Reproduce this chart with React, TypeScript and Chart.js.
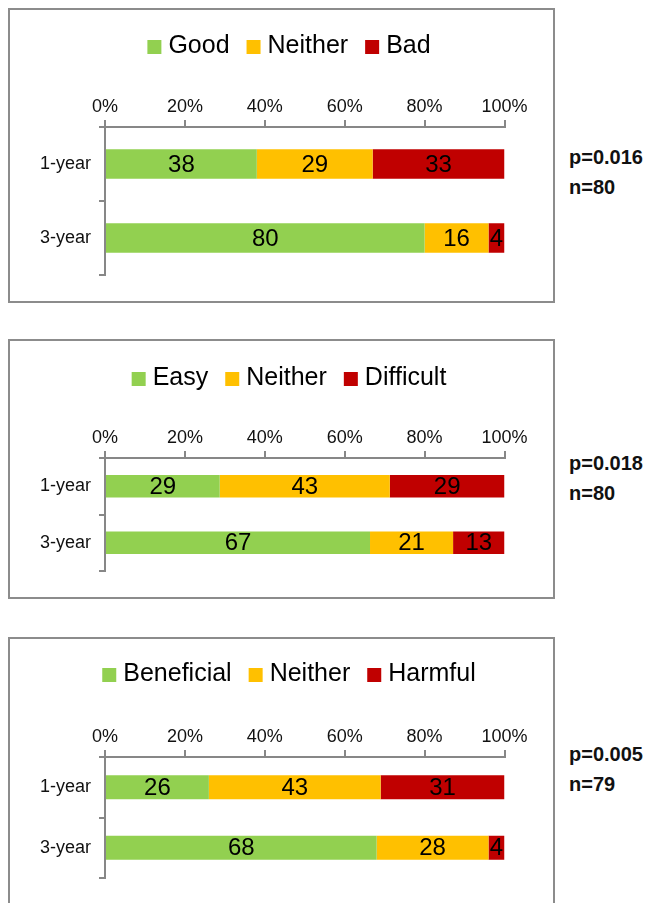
import React, { useEffect, useRef } from 'react';
import { Chart, registerables } from 'chart.js';

Chart.register(...registerables);

// ---------- data ----------
const categories = ['1-year', '3-year'];
const tickValues = [0, 20, 40, 60, 80, 100];

const p1Labels = ['Good', 'Neither', 'Bad'];
const p1Good = [38, 80];
const p1Neither = [29, 16];
const p1Bad = [33, 4];
const p1Stats = ['p=0.016', 'n=80'];

const p2Labels = ['Easy', 'Neither', 'Difficult'];
const p2Easy = [29, 67];
const p2Neither = [43, 21];
const p2Difficult = [29, 13];
const p2Stats = ['p=0.018', 'n=80'];

const p3Labels = ['Beneficial', 'Neither', 'Harmful'];
const p3Beneficial = [26, 68];
const p3Neither = [43, 28];
const p3Harmful = [31, 4];
const p3Stats = ['p=0.005', 'n=79'];

const seriesColors = ['#92D050', '#FFC000', '#C00000'];

// ---------- layout / style ----------
const FONT = '"Liberation Sans", Arial, Helvetica, sans-serif';
const AXIS_COLOR = '#878787';

type PanelLayout = {
  top: number; // wrapper top (page)
  height: number; // wrapper outer height
  legendY: number; // canvas coords
  axisY: number;
  bottomPad: number;
  statsY: number; // page coords of p line center
};

const layouts: PanelLayout[] = [
  { top: 8, height: 295, legendY: 36, axisY: 117, bottomPad: 26, statsY: 157 },
  { top: 339, height: 260, legendY: 37, axisY: 117, bottomPad: 26, statsY: 463 },
  { top: 637, height: 300, legendY: 35, axisY: 118, bottomPad: 57, statsY: 754 },
];

const WRAP_LEFT = 8;
const WRAP_WIDTH = 547;
const BORDER = 2;

function makeLegendPlugin(centerX: number, centerY: number) {
  return {
    id: 'customLegend',
    afterDraw(chart: any) {
      const ctx = chart.ctx;
      ctx.save();
      ctx.font = `25px ${FONT}`;
      ctx.textBaseline = 'middle';
      ctx.textAlign = 'left';
      const box = 14;
      const gapBoxText = 7;
      const gapItems = 17;
      const items = chart.data.datasets.map((ds: any) => ({
        label: ds.label,
        color: ds.backgroundColor,
        w: ctx.measureText(ds.label).width,
      }));
      const total =
        items.reduce((s: number, it: any) => s + box + gapBoxText + it.w, 0) +
        gapItems * (items.length - 1);
      let x = centerX - total / 2;
      items.forEach((it: any) => {
        ctx.fillStyle = it.color;
        ctx.fillRect(x, centerY - box / 2 + 1, box, box);
        ctx.fillStyle = '#000';
        ctx.fillText(it.label, x + box + gapBoxText, centerY);
        x += box + gapBoxText + it.w + gapItems;
      });
      ctx.restore();
    },
  };
}

const barLabelPlugin = {
  id: 'barLabels',
  afterDatasetsDraw(chart: any) {
    const ctx = chart.ctx;
    ctx.save();
    ctx.font = `24px ${FONT}`;
    ctx.fillStyle = '#000';
    ctx.textAlign = 'center';
    ctx.textBaseline = 'middle';
    chart.data.datasets.forEach((ds: any, di: number) => {
      const meta = chart.getDatasetMeta(di);
      meta.data.forEach((el: any, i: number) => {
        const { x, y, base } = el.getProps(['x', 'y', 'base'], true);
        ctx.fillText(String(ds.shown[i]), (x + base) / 2, y + 1);
      });
    });
    ctx.restore();
  },
};

function Panel({
  labels,
  series,
  stats,
  layout,
}: {
  labels: string[];
  series: number[][];
  stats: string[];
  layout: PanelLayout;
}) {
  const ref = useRef<HTMLCanvasElement | null>(null);
  const innerW = WRAP_WIDTH - 2 * BORDER;
  const innerH = layout.height - 2 * BORDER;

  useEffect(() => {
    if (!ref.current) return;
    const totals = categories.map((_, i) =>
      series.reduce((s, arr) => s + arr[i], 0)
    );
    const datasets = labels.map((lab, k) => ({
      label: lab,
      data: series[k].map((v, i) => (v / totals[i]) * 100),
      shown: series[k],
      backgroundColor: seriesColors[k],
      borderWidth: 0,
      barPercentage: 0.4,
      categoryPercentage: 1,
    }));
    const chart = new Chart(ref.current, {
      type: 'bar',
      data: { labels: categories, datasets },
      options: {
        indexAxis: 'y',
        animation: false,
        responsive: false,
        devicePixelRatio: 1,
        layout: {
          padding: { top: 0, left: 0, right: 48.5, bottom: layout.bottomPad },
        },
        plugins: {
          legend: { display: false },
          tooltip: { enabled: false },
        },
        scales: {
          x: {
            type: 'linear',
            position: 'top',
            stacked: true,
            min: 0,
            max: 100,
            afterBuildTicks(scale: any) {
              scale.ticks = tickValues.map((v) => ({ value: v }));
            },
            afterFit(scale: any) {
              scale.height = layout.axisY;
            },
            ticks: {
              callback: (v: any) => `${v}%`,
              color: '#111',
              font: { family: FONT, size: 18 },
              padding: 2,
              maxRotation: 0,
            },
            grid: {
              display: true,
              drawOnChartArea: false,
              drawTicks: true,
              tickLength: 7,
              color: AXIS_COLOR,
              lineWidth: 2,
            },
            border: { display: true, color: AXIS_COLOR, width: 2 },
          },
          y: {
            type: 'category',
            stacked: true,
            afterFit(scale: any) {
              scale.width = 95;
            },
            ticks: {
              color: '#111',
              font: { family: FONT, size: 18 },
              padding: 8,
            },
            grid: {
              display: true,
              drawOnChartArea: false,
              drawTicks: true,
              tickLength: 6,
              offset: true,
              color: AXIS_COLOR,
              lineWidth: 2,
            },
            border: { display: true, color: AXIS_COLOR, width: 2 },
          },
        },
      },
      plugins: [makeLegendPlugin(279, layout.legendY), barLabelPlugin],
    } as any);
    return () => chart.destroy();
  }, []);

  return (
    <>
      <div
        style={{
          position: 'absolute',
          left: WRAP_LEFT,
          top: layout.top,
          width: WRAP_WIDTH,
          height: layout.height,
          border: `${BORDER}px solid #8c8c8c`,
          boxSizing: 'border-box',
          background: '#fff',
        }}
      >
        <canvas
          ref={ref}
          width={innerW}
          height={innerH}
          style={{ display: 'block', width: innerW, height: innerH }}
        />
      </div>
      <div
        style={{
          position: 'absolute',
          left: 569,
          top: layout.statsY - 15,
          fontFamily: FONT,
          fontWeight: 'bold',
          fontSize: 20,
          lineHeight: '30px',
          color: '#111',
          whiteSpace: 'nowrap',
        }}
      >
        <div>{stats[0]}</div>
        <div>{stats[1]}</div>
      </div>
    </>
  );
}

export default function App() {
  return (
    <div
      style={{
        position: 'absolute',
        left: 0,
        top: 0,
        width: 650,
        height: 903,
        overflow: 'hidden',
        background: '#fff',
      }}
    >
      <Panel
        labels={p1Labels}
        series={[p1Good, p1Neither, p1Bad]}
        stats={p1Stats}
        layout={layouts[0]}
      />
      <Panel
        labels={p2Labels}
        series={[p2Easy, p2Neither, p2Difficult]}
        stats={p2Stats}
        layout={layouts[1]}
      />
      <Panel
        labels={p3Labels}
        series={[p3Beneficial, p3Neither, p3Harmful]}
        stats={p3Stats}
        layout={layouts[2]}
      />
    </div>
  );
}
